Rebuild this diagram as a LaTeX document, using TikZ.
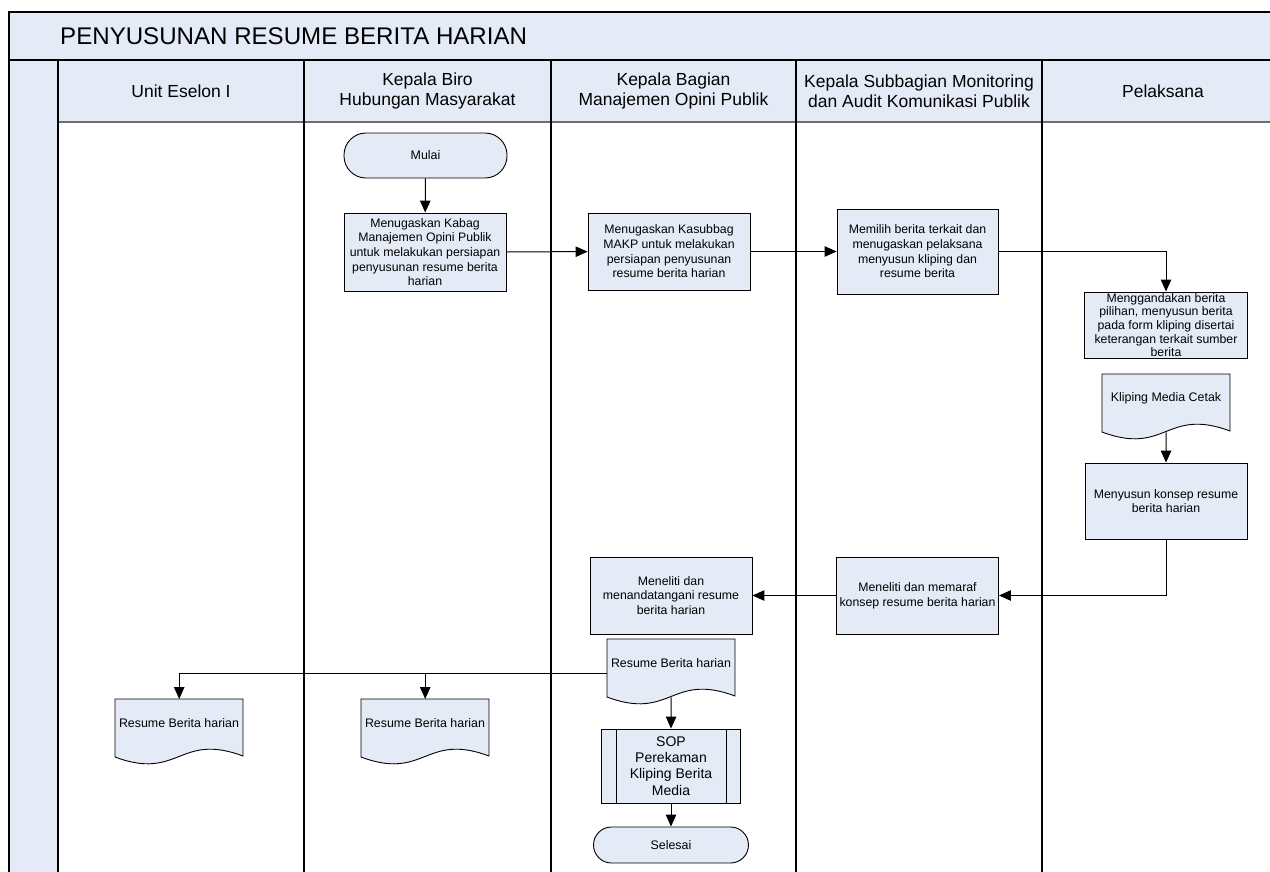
\documentclass[tikz,border=0pt]{standalone}
\usepackage{fontspec}
\setmainfont{Liberation Sans}
\usetikzlibrary{arrows.meta}
\definecolor{lb}{RGB}{228,235,247}
\definecolor{hdrline}{RGB}{110,110,110}
\tikzset{
  proc/.style={draw, fill=lb, line width=0.9pt, align=center, inner sep=0pt,
    font=\fontsize{12.3}{14.7}\selectfont},
  term/.style={draw, fill=lb, line width=0.9pt, align=center, inner sep=0pt,
    font=\fontsize{12.4}{14.7}\selectfont},
  arr/.style={-{Triangle[length=12pt,width=10.5pt]}, line width=1pt},
  lane/.style={line width=1.3pt},
  hdr/.style={align=center, font=\fontsize{17.5}{20.5}\selectfont, inner sep=0pt},
  doctext/.style={align=center, font=\fontsize{12.4}{14.7}\selectfont, inner sep=0pt},
}
\newcommand{\docnode}[4]{%
  \path[draw, fill=lb, line width=0.9pt] (#2,#3) -- (#2+128,#3) -- (#2+128,#3+57)
    .. controls (#2+64,#3+57-24) and (#2+64,#3+58+24) .. (#2,#3+58) -- cycle;
  \node[minimum width=128pt, minimum height=58pt, inner sep=0pt, anchor=north west] (#1) at (#2,#3) {};
  \node[doctext] (#1-t) at (#2+64,#3+24) {#4};
}
\begin{document}
\begin{tikzpicture}[x=1pt,y=-1pt]
\useasboundingbox (0,0) rectangle (1270,871);
% frame fills
\fill[lb] (9,12) rectangle (1275,122);
\fill[lb] (9,122) rectangle (58,875);
% frame lines
\draw[line width=1.3pt] (9,875) -- (9,12) -- (1275,12);
\draw[line width=1.6pt] (9,60) -- (1275,60);
\draw[line width=1.6pt, hdrline] (58,122) -- (1275,122);
\foreach \xx in {58,304,551,796,1042} {\draw[lane] (\xx,60) -- (\xx,875);}
% title and headers
\node[anchor=west, inner sep=0pt, font=\fontsize{24.1}{28}\selectfont] (title) at (60,36) {PENYUSUNAN RESUME BERITA HARIAN};
\node[hdr] (h1) at (181,91) {Unit Eselon I};
\node[hdr] (h2) at (427.5,91) {Kepala Biro\\Hubungan Masyarakat};
\node[hdr] (h3) at (673.5,91) {Kepala Bagian\\Manajemen Opini Publik};
\node[hdr] (h4) at (919,91) {Kepala Subbagian Monitoring\\dan Audit Komunikasi Publik};
\node[hdr] (h5) at (1163,91) {Pelaksana};
% nodes
\node[term, minimum width=163pt, minimum height=45pt, rounded corners=22pt] (mulai) at (425.5,155.5) {Mulai};
\node[proc, minimum width=162pt, minimum height=78pt] (b1) at (425,252) {Menugaskan Kabag\\Manajemen Opini Publik\\untuk melakukan persiapan\\penyusunan resume berita\\harian};
\node[proc, minimum width=162pt, minimum height=77pt] (b2) at (669,251.5) {Menugaskan Kasubbag\\MAKP untuk melakukan\\persiapan penyusunan\\resume berita harian};
\node[proc, minimum width=161pt, minimum height=85pt] (b3) at (917.5,251.5) {Memilih berita terkait dan\\menugaskan pelaksana\\menyusun kliping dan\\resume berita};
\node[proc, minimum width=163pt, minimum height=66pt, font=\fontsize{12.3}{13.6}\selectfont] (b4) at (1166,325) {Menggandakan berita\\pilihan, menyusun berita\\pada form kliping disertai\\keterangan terkait sumber\\berita};
\docnode{dk}{1102}{374}{Kliping Media Cetak}
\node[proc, minimum width=162pt, minimum height=76pt] (b5) at (1166,501) {Menyusun konsep resume\\berita harian};
\node[proc, minimum width=162pt, minimum height=77pt] (b6) at (917.5,595.5) {Meneliti dan memaraf\\konsep resume berita harian};
\node[proc, minimum width=162pt, minimum height=77pt] (b7) at (671,595.5) {Meneliti dan\\menandatangani resume\\berita harian};
\docnode{dr}{607}{639}{Resume Berita harian}
\docnode{da}{115}{699}{Resume Berita harian}
\docnode{db}{361}{699}{Resume Berita harian}
\node[proc, minimum width=139pt, minimum height=74pt, font=\fontsize{14}{16.3}\selectfont] (sop) at (671,766) {SOP\\Perekaman\\Kliping Berita\\Media};
\draw[line width=0.9pt] ([xshift=15pt]sop.north west) -- ([xshift=15pt]sop.south west);
\draw[line width=0.9pt] ([xshift=-15pt]sop.north east) -- ([xshift=-15pt]sop.south east);
\node[term, minimum width=155pt, minimum height=36pt, rounded corners=18pt] (selesai) at (671,845) {Selesai};
% connectors
\draw[arr] (mulai) -- (b1);
\draw[arr] (b1) -- (b2);
\draw[arr] (b2) -- (b3);
\draw[arr] (b3.east) -| (b4.north);
\draw[arr] (dk.south) -- (b5.north);
\draw[arr] (b5.south) |- (b6.east);
\draw[arr] (b6.west) -- (b7.east);
\coordinate (j) at ([yshift=-5pt]dr.west);
\draw[arr] (j) -| (da.north);
\draw[arr] (db.north |- j) -- (db.north);
\draw[arr] (dr.south) -- (sop.north);
\draw[arr] (sop.south) -- (selesai.north);
\end{tikzpicture}
\end{document}
